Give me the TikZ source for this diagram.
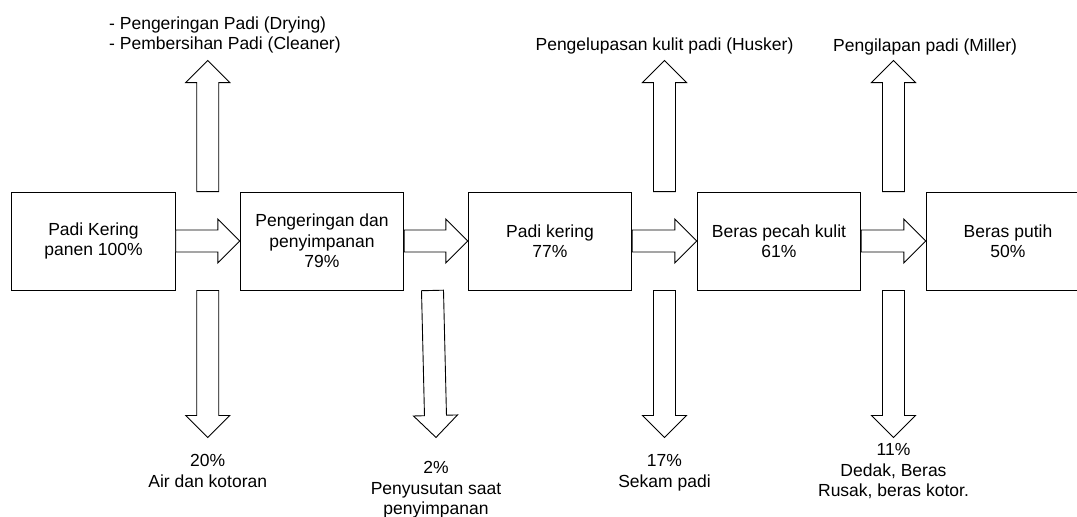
\documentclass[tikz,border=0pt]{standalone}
\usepackage{fontspec}
\setmainfont{Liberation Sans}
\usetikzlibrary{calc,positioning}
\tikzset{
  stage/.style={rectangle, draw, fill=white, line width=0.9pt, minimum width=163.5pt, minimum height=98pt, inner sep=0pt, align=center},
  note/.style={inner sep=0pt, align=center},
  blockarrow/.style={draw, fill=white, line width=0.9pt, line join=miter, to path={
      let \p1=($(\tikztotarget)!22pt!(\tikztostart)$) in
      ($(\tikztostart)!11pt!90:(\tikztotarget)$) -- ($(\p1)!11pt!90:(\tikztotarget)$)
      -- ($(\p1)!22pt!90:(\tikztotarget)$) -- (\tikztotarget)
      -- ($(\p1)!22pt!-90:(\tikztotarget)$) -- ($(\p1)!11pt!-90:(\tikztotarget)$)
      -- ($(\tikztostart)!11pt!-90:(\tikztotarget)$) -- cycle}}
}

\begin{document}
\begin{tikzpicture}[x=1pt, y=-1pt, font=\fontsize{17.5}{20.5}\selectfont]
  \useasboundingbox (0,0) rectangle (1077,517);
  \clip (0,0) rectangle (1077,517);
  \fill[white] (0,0) rectangle (1077,517);

  \node[stage] (harvest) at (93.5,241) {Padi Kering\\panen 100\%};
  \node[stage] (storage) at (322,241) {Pengeringan dan\\penyimpanan\\79\%};
  \node[stage] (dried) at (550,241) {Padi kering\\77\%};
  \node[stage] (brown) at (779,241) {Beras pecah kulit\\61\%};
  \node[stage] (milled) at (1008,241) {Beras putih\\50\%};

  % side streams, in the gaps between the stages
  \coordinate (dryup) at ($(harvest.north east)!0.5!(storage.north west)$);
  \coordinate (drytop) at ($(dryup)+(0,-131)$);
  \coordinate (drydown) at ($(harvest.south east)!0.5!(storage.south west)$);
  \coordinate (drybottom) at ($(drydown)+(0,147)$);
  \coordinate (lossdown) at ($(storage.south east)!0.5!(dried.south west)+(-3.5,0)$);
  \coordinate (lossbottom) at ($(lossdown)+(3.5,147)$);
  \coordinate (huskup) at ($(dried.north east)!0.5!(brown.north west)$);
  \coordinate (husktop) at ($(huskup)+(0,-131)$);
  \coordinate (huskdown) at ($(dried.south east)!0.5!(brown.south west)$);
  \coordinate (huskbottom) at ($(huskdown)+(0,147)$);
  \coordinate (millup) at ($(brown.north east)!0.5!(milled.north west)$);
  \coordinate (milltop) at ($(millup)+(0,-131)$);
  \coordinate (milldown) at ($(brown.south east)!0.5!(milled.south west)$);
  \coordinate (millbottom) at ($(milldown)+(0,147)$);

  \draw[blockarrow] (harvest.east) to (storage.west);
  \draw[blockarrow] (storage.east) to (dried.west);
  \draw[blockarrow] (dried.east) to (brown.west);
  \draw[blockarrow] (brown.east) to (milled.west);

  \draw[blockarrow] (dryup) to (drytop);
  \draw[blockarrow] (drydown) to (drybottom);
  \draw[blockarrow] (lossdown) to (lossbottom);
  \draw[blockarrow] (huskup) to (husktop);
  \draw[blockarrow] (huskdown) to (huskbottom);
  \draw[blockarrow] (millup) to (milltop);
  \draw[blockarrow] (milldown) to (millbottom);

  \node[note, align=left, anchor=west] (drylbl) at (109,35) {- Pengeringan Padi (Drying)\\- Pembersihan Padi (Cleaner)};
  \node[note, above=6pt of husktop] (husklbl) {Pengelupasan kulit padi (Husker)};
  \node[note, anchor=base west] (milllbl) at (833,51.5) {Pengilapan padi (Miller)};

  \node[note, below=17pt of drybottom] (airlbl) {20\%\\Air dan kotoran};
  \node[note, below=24pt of lossbottom] (losslbl) {2\%\\Penyusutan saat\\penyimpanan};
  \node[note, below=17pt of huskbottom] (sekamlbl) {17\%\\Sekam padi};
  \node[note, below=6pt of millbottom] (dedaklbl) {11\%\\Dedak, Beras\\Rusak, beras kotor.};
\end{tikzpicture}
\end{document}
